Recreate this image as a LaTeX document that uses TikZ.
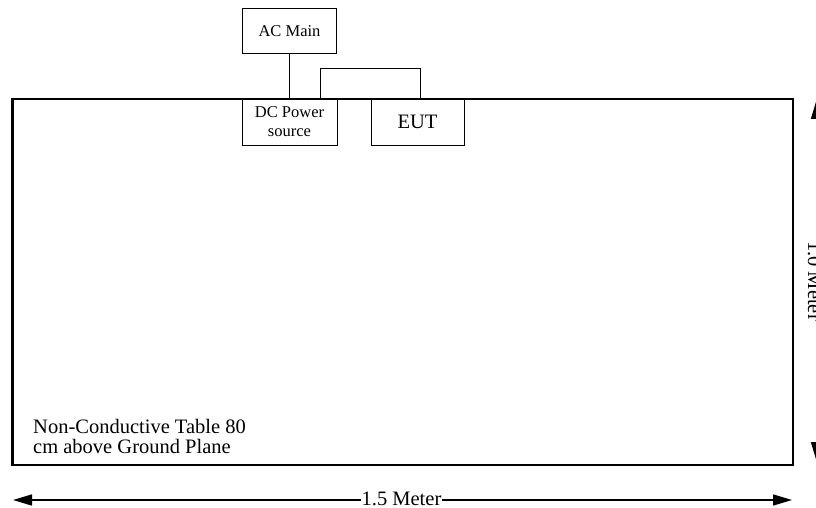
\documentclass[tikz,border=0pt]{standalone}
\usepackage{fontspec}
\setmainfont{Liberation Serif}
\usetikzlibrary{arrows.meta}
\begin{document}
\begin{tikzpicture}[x=1pt,y=-1pt,
  smallbox/.style={draw,line width=1pt,inner sep=0pt,align=center,font=\fontsize{16.5}{19}\selectfont},
  bigfont/.style={font=\fontsize{20.5}{20}\selectfont},
  dimarrow/.style={line width=1.5pt,{Triangle[length=19pt,width=11pt]}-{Triangle[length=19pt,width=11pt]}},
  dimlabel/.style={bigfont,fill=white,inner sep=1pt}]
\useasboundingbox (0,0) rectangle (816,508);
\fill[white] (0,0) rectangle (816,508);
% table
\node[draw,line width=2.5pt,minimum width=780.5pt,minimum height=366pt,inner sep=0pt] (table) at (402.75,282) {};
% boxes
\node[smallbox,minimum width=94pt,minimum height=45pt] (ac) at (289.5,31.5) {AC Main};
\node[smallbox,minimum width=95pt,minimum height=46pt] (dc) at (289.5,122) {DC Power\\source};
\node[smallbox,bigfont,minimum width=93pt,minimum height=46pt] (eut) at (417.5,122) {EUT};
% connectors
\draw[line width=1pt] (ac.south) -- (dc.north);
\draw[line width=1pt] ([xshift=30.5pt]dc.north) -- ++(0,-30) -| ([xshift=3.2pt]eut.north);
% label
\node[bigfont,align=left,anchor=north west,inner sep=0pt] (lbl) at (33,419) {Non-Conductive Table 80\\cm above Ground Plane};
% bottom dimension
\coordinate (bl) at (13,500);
\coordinate (br) at (792,500);
\draw[dimarrow] (bl) -- (br);
\node[dimlabel,anchor=base] (w) at (401.5,505.5) {1.5 Meter};
% right dimension
\coordinate (rt) at (816.5,100);
\coordinate (rb) at (816.5,461);
\draw[dimarrow] (rt) -- (rb);
\node[dimlabel,rotate=-90,anchor=base] (h) at (808,281) {1.0 Meter};
\end{tikzpicture}
\end{document}
